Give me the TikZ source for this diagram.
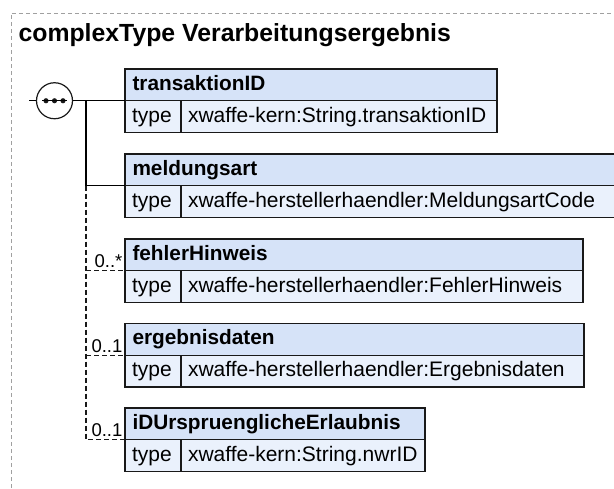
\documentclass[tikz,border=0pt]{standalone}
\usepackage{fontspec}
\setmainfont{Liberation Sans}
\usetikzlibrary{positioning}
\definecolor{hdrblue}{RGB}{214,227,248}
\definecolor{typeblue}{RGB}{234,241,252}
\definecolor{framegray}{RGB}{160,160,160}
\definecolor{edgeblack}{RGB}{25,25,25}

\begin{document}
\begin{tikzpicture}[x=1pt, y=-1pt, line width=1.2pt,
        elhead/.style={draw=edgeblack, fill=hdrblue, anchor=north west, minimum height=31.75pt,
        inner xsep=7.5pt, inner ysep=0pt, outer sep=0pt, text height=15pt, text depth=4pt,
        align=left, font=\fontsize{20.8}{24}\selectfont\bfseries},
        eltype/.style={draw=edgeblack, fill=typeblue, anchor=north west, minimum height=31.75pt,
        inner xsep=7pt, inner ysep=0pt, outer sep=0pt, text height=15pt, text depth=4pt,
        align=left, font=\fontsize{21}{24}\selectfont},
        card/.style={anchor=base east, inner sep=0pt, font=\fontsize{18.5}{21}\selectfont},
        frame/.style={draw=framegray, line width=0.9pt, dash pattern=on 4pt off 3pt},
        optline/.style={draw=edgeblack, dash pattern=on 5pt off 3pt}]
        \useasboundingbox (0,0) rectangle (614,489);
        \clip (0,0) rectangle (614,489);
        \draw[frame] (11,495) -- (11,13) -- (620,13);
        \node[anchor=base west, inner sep=0pt, font=\fontsize{24.8}{29}\selectfont\bfseries] (title) at (18,42) {complexType Verarbeitungsergebnis};

        \node[elhead, text width=357pt] (tid) at (125,69) {transaktionID};
        \node[eltype, text width=42pt] (tid-t) at (tid.south west) {type};
        \node[eltype, text width=302pt] (tid-v) at (tid-t.north east) {xwaffe-kern:String.transaktionID};

        \node[elhead, text width=478pt] (meld) at (125,154) {meldungsart};
        \node[eltype, text width=42pt] (meld-t) at (meld.south west) {type};
        \node[eltype, text width=423pt] (meld-v) at (meld-t.north east) {xwaffe-herstellerhaendler:MeldungsartCode};

        \node[elhead, text width=443pt] (fehl) at (125,239) {fehlerHinweis};
        \node[eltype, text width=42pt] (fehl-t) at (fehl.south west) {type};
        \node[eltype, text width=388pt] (fehl-v) at (fehl-t.north east) {xwaffe-herstellerhaendler:FehlerHinweis};

        \node[elhead, text width=444pt] (erg) at (125,323.5) {ergebnisdaten};
        \node[eltype, text width=42pt] (erg-t) at (erg.south west) {type};
        \node[eltype, text width=389pt] (erg-v) at (erg-t.north east) {xwaffe-herstellerhaendler:Ergebnisdaten};

        \node[elhead, text width=285pt] (idu) at (125,408) {iDUrspruenglicheErlaubnis};
        \node[eltype, text width=42pt] (idu-t) at (idu.south west) {type};
        \node[eltype, text width=230pt] (idu-v) at (idu-t.north east) {\mbox{xwaffe-kern:String.nwrID}};

        % sequence compositor
        \node[circle, draw=edgeblack, fill=white, minimum size=36pt, inner sep=0pt] (seq) at (54.5,100.75) {};
        \fill[edgeblack] (seq.center) circle (2.6pt) ([xshift=-8.5pt]seq.center) circle (2.6pt)
            ([xshift=8.5pt]seq.center) circle (2.6pt);
        \draw ([xshift=-12.5pt]seq.center) -- ([xshift=12.5pt]seq.center);
        \coordinate (seqin) at (29,100.75);
        \coordinate (trunk) at (86,100.75);

        \draw (seqin) -- (seq.west);
        \draw (seq.east) -- (tid.south west);
        \draw (trunk) -- (trunk |- meld.south west) -- (meld.south west);
        \draw[optline] (trunk |- meld.south west) -- (trunk |- idu.south west) -- (idu.south west);
        \draw[optline] (trunk |- fehl.south west) -- (fehl.south west);
        \draw[optline] (trunk |- erg.south west) -- (erg.south west);

        \node[card] (fehl-c) at ([xshift=-2pt,yshift=3pt]fehl.south west) {0..*};
        \node[card] (erg-c) at ([xshift=-2pt,yshift=3pt]erg.south west) {0..1};
        \node[card] (idu-c) at ([xshift=-2pt,yshift=3pt]idu.south west) {0..1};
\end{tikzpicture}
\end{document}
